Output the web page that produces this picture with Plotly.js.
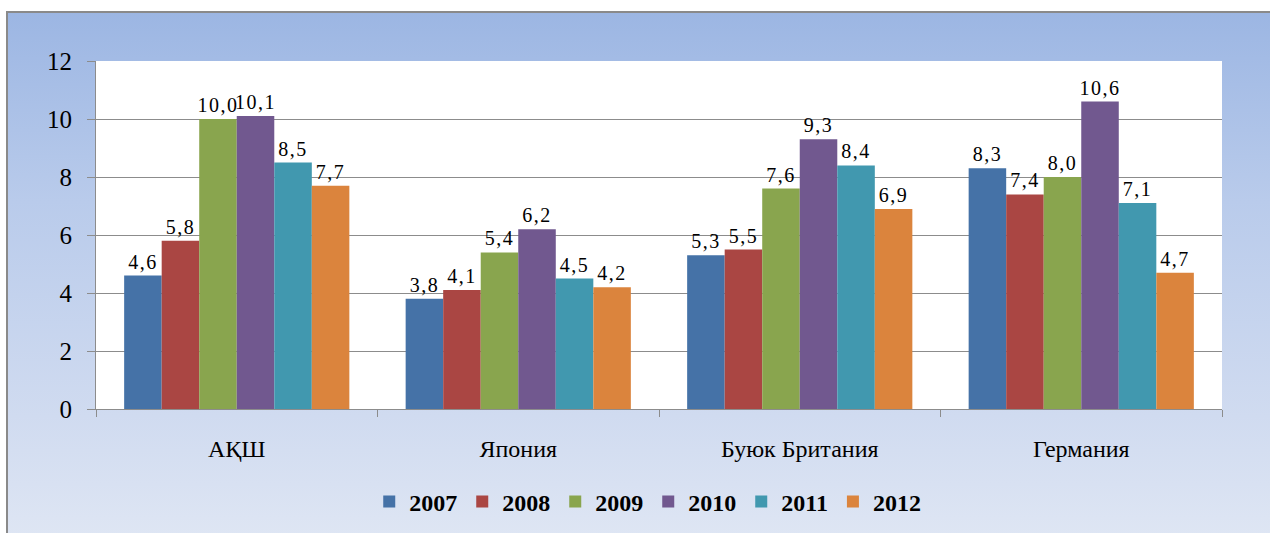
<!DOCTYPE html>
<html>
<head>
<meta charset="utf-8">
<script src="https://cdn.plot.ly/plotly-3.0.1.min.js"></script>
<style>
html,body{margin:0;padding:0;background:#fff;}
#wrap{position:relative;width:1270px;height:533px;overflow:hidden;background:#fff;}
#frame{position:absolute;left:6px;top:11px;width:1280px;height:540px;box-sizing:border-box;
  border-left:2px solid #8a8a8a;border-top:2px solid #8a8a8a;
  background:linear-gradient(to bottom,#9cb6e3 0%,#b9cbeb 35%,#d0dbf0 75%,#e0e7f4 100%);}
#chart{position:absolute;left:0;top:0;width:1270px;height:533px;}
.barlayer text{letter-spacing:1.5px;}
</style>
</head>
<body>
<div id="wrap"><div id="frame"></div><div id="chart"></div></div>
<script>
var categories = ['АҚШ', 'Япония', 'Буюк Британия', 'Германия'];
var years = ['2007', '2008', '2009', '2010', '2011', '2012'];
var v2007 = [4.6, 3.8, 5.3, 8.3];
var v2008 = [5.8, 4.1, 5.5, 7.4];
var v2009 = [10.0, 5.4, 7.6, 8.0];
var v2010 = [10.1, 6.2, 9.3, 10.6];
var v2011 = [8.5, 4.5, 8.4, 7.1];
var v2012 = [7.7, 4.2, 6.9, 4.7];
var colors = ['#4572a7', '#aa4643', '#89a54e', '#71588f', '#4198af', '#db843d'];

var series = [v2007, v2008, v2009, v2010, v2011, v2012];
var serif = 'Liberation Serif, serif';

var traces = series.map(function (vals, i) {
  return {
    type: 'bar',
    name: years[i],
    x: categories,
    y: vals,
    marker: {color: colors[i], line: {width: 0}},
    texttemplate: '%{y:.1f}',
    textposition: 'outside',
    constraintext: 'none',
    cliponaxis: false,
    textfont: {family: serif, size: 20, color: '#000'},
    hoverinfo: 'none'
  };
});

var layout = {
  width: 1270,
  height: 533,
  margin: {l: 96, r: 48, t: 61, b: 124, autoexpand: false},
  paper_bgcolor: 'rgba(0,0,0,0)',
  plot_bgcolor: '#ffffff',
  separators: ', ',
  barmode: 'group',
  bargap: 0.2,
  bargroupgap: 0,
  font: {family: serif, color: '#000'},
  xaxis: {
    type: 'category',
    showline: true, linecolor: '#8c8c8c', linewidth: 1,
    ticks: 'outside', tickson: 'boundaries', ticklen: 7, tickcolor: '#8c8c8c',
    tickfont: {family: serif, size: 24, color: '#000'},
    ticklabelstandoff: 18,
    automargin: false,
    showgrid: false, zeroline: false
  },
  yaxis: {
    range: [0, 12], dtick: 2,
    showline: true, linecolor: '#8c8c8c', linewidth: 1,
    ticks: 'outside', ticklen: 8, tickcolor: '#8c8c8c',
    tickfont: {family: serif, size: 25, color: '#000'},
    ticklabelstandoff: 10,
    automargin: false,
    showgrid: true, gridcolor: '#8c8c8c', gridwidth: 1,
    zeroline: false
  },
  legend: {
    orientation: 'h',
    x: 0.49, xanchor: 'center',
    y: -0.267, yanchor: 'middle',
    bgcolor: 'rgba(0,0,0,0)',
    font: {family: serif, size: 24, color: '#000', weight: 'bold'},
    itemwidth: 30,
    traceorder: 'normal'
  },
  showlegend: true
};

Plotly.newPlot('chart', traces, layout, {displayModeBar: false, staticPlot: true});
</script>
</body>
</html>
